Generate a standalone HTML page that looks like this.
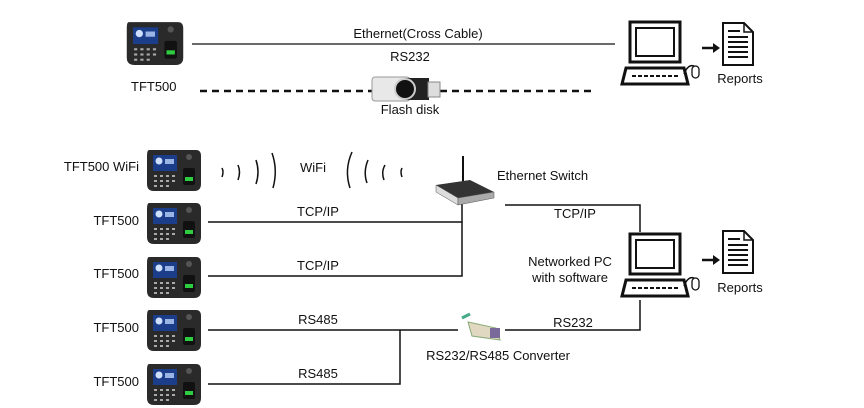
<!DOCTYPE html>
<html><head><meta charset="utf-8"><style>
html,body{margin:0;padding:0;background:#fff;width:864px;height:408px;overflow:hidden}
svg{display:block}
text{font-family:"Liberation Sans",sans-serif;font-size:13px;fill:#111}
</style></head><body>
<svg width="864" height="408" viewBox="0 0 864 408" xmlns="http://www.w3.org/2000/svg">
<defs>
<symbol id="dev" viewBox="0 0 56 44">
<path d="M3 2 H50 Q55 2 55 8 V36 Q55 43 48 43 H8 Q1 43 1 36 V8 Q1 2 3 2Z" fill="#2a2a2a"/>
<rect x="7" y="7" width="24" height="16" fill="#1b3d8a"/>
<circle cx="13" cy="13" r="3.5" fill="#cfe0ff"/>
<rect x="19" y="11" width="9" height="5" fill="#9ab4e6"/>
<g fill="#aaa"><rect x="8" y="27" width="3" height="2"/><rect x="14" y="27" width="3" height="2"/><rect x="20" y="27" width="3" height="2"/><rect x="26" y="27" width="3" height="2"/>
<rect x="8" y="32" width="3" height="2"/><rect x="14" y="32" width="3" height="2"/><rect x="20" y="32" width="3" height="2"/><rect x="26" y="32" width="3" height="2"/>
<rect x="8" y="37" width="3" height="2"/><rect x="14" y="37" width="3" height="2"/><rect x="20" y="37" width="3" height="2"/></g>
<circle cx="43" cy="9" r="3" fill="#555"/>
<rect x="37" y="20" width="12" height="17" rx="2" fill="#111"/>
<rect x="39" y="29" width="8" height="4" fill="#2ecc40"/>
</symbol>
<symbol id="pc" viewBox="0 0 80 70">
<rect x="10" y="2" width="50" height="40" fill="#fff" stroke="#111" stroke-width="3"/>
<rect x="16" y="8" width="38" height="28" fill="#fff" stroke="#111" stroke-width="2"/>
<path d="M6 48 H64 L68 64 H2 Z" fill="#fff" stroke="#111" stroke-width="3"/>
<path d="M12 56 H58" stroke="#111" stroke-width="2" stroke-dasharray="4 2"/>
<path d="M64 54 Q68 44 74 46" fill="none" stroke="#111" stroke-width="1.5"/>
<rect x="72" y="46" width="7" height="12" rx="3.5" fill="#fff" stroke="#111" stroke-width="1.3"/>
</symbol>
<symbol id="doc" viewBox="0 0 32 44">
<path d="M1 1 H22 L31 10 V43 H1 Z" fill="#fff" stroke="#111" stroke-width="2"/>
<path d="M22 1 V10 H31" fill="none" stroke="#111" stroke-width="1.5"/>
<g stroke="#111" stroke-width="2"><path d="M6 9 H18"/><path d="M6 15 H26"/><path d="M6 20 H26"/><path d="M6 25 H26"/><path d="M6 30 H26"/><path d="M6 35 H26"/></g>
</symbol>
</defs>

<!-- top -->
<use href="#dev" x="118" y="20" width="74" height="46"/>
<text x="131" y="91" font-size="14">TFT500</text>
<line x1="192" y1="44" x2="615" y2="44" stroke="#111" stroke-width="1.3"/>
<text x="418" y="38" text-anchor="middle">Ethernet(Cross Cable)</text>
<text x="410" y="61" text-anchor="middle">RS232</text>
<line x1="200" y1="91" x2="592" y2="91" stroke="#111" stroke-width="2.5" stroke-dasharray="7 5"/>
<rect x="372" y="77" width="38" height="24" rx="3" fill="#e8e8e8" stroke="#999"/>
<rect x="405" y="78" width="24" height="22" fill="#222"/>
<rect x="428" y="82" width="12" height="15" fill="#ddd" stroke="#888"/>
<circle cx="405" cy="89" r="10" fill="#111" stroke="#ccc" stroke-width="2"/>
<text x="410" y="114" text-anchor="middle">Flash disk</text>
<use href="#pc" x="620" y="20" width="80" height="70"/>
<path d="M702 48 H714" stroke="#111" stroke-width="2.5"/><path d="M713 43 L720 48 L713 53Z" fill="#111"/>
<use href="#doc" x="722" y="22" width="32" height="44"/>
<text x="740" y="83" text-anchor="middle">Reports</text>

<!-- bottom devices -->
<use href="#dev" x="146" y="148" width="56" height="44"/>
<use href="#dev" x="146" y="201" width="56" height="44"/>
<use href="#dev" x="146" y="255" width="56" height="44"/>
<use href="#dev" x="146" y="308" width="56" height="44"/>
<use href="#dev" x="146" y="362" width="56" height="44"/>
<text x="139" y="171" text-anchor="end">TFT500 WiFi</text>
<text x="139" y="225" text-anchor="end">TFT500</text>
<text x="139" y="278" text-anchor="end">TFT500</text>
<text x="139" y="332" text-anchor="end">TFT500</text>
<text x="139" y="386" text-anchor="end">TFT500</text>

<g fill="none" stroke="#111" stroke-width="1.5">
<path d="M222 168 Q224 172 222 177"/><path d="M238 165 Q241 172 238 180"/><path d="M256 160 Q260 172 256 184"/><path d="M272 153 Q278 170 273 188"/>
<path d="M352 152 Q344 170 350 188"/><path d="M368 160 Q363 172 367 183"/><path d="M385 165 Q381 172 384 180"/><path d="M402 168 Q400 172 402 177"/>
</g>
<text x="300" y="172">WiFi</text>

<g stroke="#111" stroke-width="1.5" fill="none">
<path d="M208 222 H462 V200"/>
<path d="M208 276 H462 V222"/>
<path d="M208 330 H458"/>
<path d="M400 330 V384 H208"/>
<path d="M505 330 H640 V300"/>
<path d="M505 205 H640 V232"/>
</g>
<text x="318" y="216" text-anchor="middle">TCP/IP</text>
<text x="318" y="270" text-anchor="middle">TCP/IP</text>
<text x="318" y="324" text-anchor="middle">RS485</text>
<text x="318" y="378" text-anchor="middle">RS485</text>
<text x="575" y="218" text-anchor="middle">TCP/IP</text>
<text x="573" y="327" text-anchor="middle">RS232</text>

<!-- switch -->
<line x1="463" y1="156" x2="463" y2="182" stroke="#111" stroke-width="2"/>
<path d="M436 185 L470 180 L494 192 L458 198 Z" fill="#333"/>
<path d="M436 185 L458 198 L458 205 L436 192 Z" fill="#ddd" stroke="#555" stroke-width="0.5"/>
<path d="M458 198 L494 192 L494 198 L458 205 Z" fill="#aaa" stroke="#555" stroke-width="0.5"/>
<text x="497" y="180">Ethernet Switch</text>

<!-- converter -->
<path d="M462 318 L470 314" stroke="#4a8" stroke-width="3"/>
<path d="M468 322 L496 328 L500 340 L472 336 Z" fill="#e0d8c0" stroke="#8a7" stroke-width="1"/>
<rect x="490" y="328" width="10" height="10" fill="#7a6a9a"/>
<text x="498" y="360" text-anchor="middle">RS232/RS485 Converter</text>

<use href="#pc" x="620" y="232" width="80" height="70"/>
<text x="570" y="266" text-anchor="middle">Networked PC</text>
<text x="570" y="282" text-anchor="middle">with software</text>
<path d="M702 260 H714" stroke="#111" stroke-width="2.5"/><path d="M713 255 L720 260 L713 265Z" fill="#111"/>
<use href="#doc" x="722" y="230" width="32" height="44"/>
<text x="740" y="292" text-anchor="middle">Reports</text>
</svg>
</body></html>
